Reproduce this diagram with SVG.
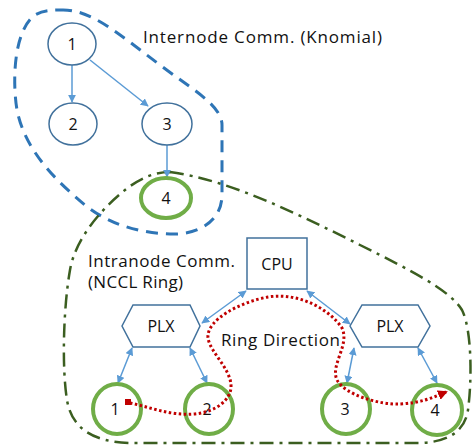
<svg xmlns="http://www.w3.org/2000/svg" width="475" height="446" viewBox="0 0 475 446">
<defs>
<style>
text{font-family:"Open Sans","Noto Sans","Liberation Sans",sans-serif;font-size:16px;fill:#111}
.big{font-size:17px}
.lbl{text-anchor:middle}
.tnode{fill:#fff;stroke:#41719c;stroke-width:1.5}
.gnode{fill:#fff;stroke:#70ad47;stroke-width:4}
.box{fill:#fff;stroke:#41719c;stroke-width:1.5}
.arr{stroke:#5b9bd5;stroke-width:1.5;fill:none}
</style>
<marker id="ah" viewBox="0 0 10 10" refX="9" refY="5" markerWidth="8" markerHeight="8" markerUnits="userSpaceOnUse" orient="auto-start-reverse">
<path d="M0,0 L10,5 L0,10 Z" fill="#5b9bd5"/>
</marker>
<marker id="rah" viewBox="0 0 10 10" refX="8" refY="5" markerWidth="10" markerHeight="10" markerUnits="userSpaceOnUse" orient="auto">
<path d="M0,0 L10,5 L0,10 Z" fill="#c00000"/>
</marker>
</defs>
<rect width="475" height="446" fill="#fff"/>
<g id="boundaries">
<path d="M60,10 C90,8 120,35 160,65 C190,88 222,105 222,125 L222,195 C222,220 200,235 170,234 C140,233 110,225 85,205 C55,180 25,150 17,110 C12,80 14,30 35,15 C42,11 50,10 60,10 Z" fill="none" stroke="#2e75b6" stroke-width="3" stroke-dasharray="12 8"/>
<path d="M170,172 C230,180 300,215 360,245 C410,270 450,290 462,310 C472,330 472,380 468,410 C465,430 450,442 420,443 L130,443 C95,442 72,430 67,400 C62,370 63,310 70,270 C75,240 100,210 125,190 C140,178 155,172 170,172 Z" fill="none" stroke="#3b5e20" stroke-width="2.5" stroke-dasharray="14 6 3 6"/>
</g>
<g id="labels">
<text class="big" x="143" y="43" textLength="239" lengthAdjust="spacing">Internode Comm. (Knomial)</text>
<text class="big" x="88" y="267" textLength="147" lengthAdjust="spacing">Intranode Comm.</text>
<text class="big" x="88" y="288" textLength="95" lengthAdjust="spacing">(NCCL Ring)</text>
<text class="big" x="221" y="346" textLength="119" lengthAdjust="spacing">Ring Direction</text>
</g>
<g id="connectors">
<line class="arr" x1="72" y1="65" x2="72" y2="102" marker-end="url(#ah)"/>
<line class="arr" x1="90" y1="60" x2="148" y2="106" marker-end="url(#ah)"/>
<line class="arr" x1="167" y1="145" x2="167" y2="177" marker-end="url(#ah)"/>
<line class="arr" x1="246" y1="291" x2="202" y2="323" marker-start="url(#ah)" marker-end="url(#ah)"/>
<line class="arr" x1="307" y1="291" x2="350" y2="324" marker-start="url(#ah)" marker-end="url(#ah)"/>
<line class="arr" x1="132" y1="348" x2="118" y2="383" marker-start="url(#ah)" marker-end="url(#ah)"/>
<line class="arr" x1="190" y1="348" x2="207" y2="383" marker-start="url(#ah)" marker-end="url(#ah)"/>
<line class="arr" x1="354" y1="348" x2="347" y2="383" marker-start="url(#ah)" marker-end="url(#ah)"/>
<line class="arr" x1="418" y1="348" x2="437" y2="383" marker-start="url(#ah)" marker-end="url(#ah)"/>
</g>
<g id="n1"><ellipse class="tnode" cx="72" cy="44" rx="24" ry="21"/><text class="lbl" x="72" y="50">1</text></g>
<g id="n2"><ellipse class="tnode" cx="73" cy="124" rx="24" ry="21"/><text class="lbl" x="73" y="130">2</text></g>
<g id="n3"><ellipse class="tnode" cx="167" cy="124" rx="25" ry="21"/><text class="lbl" x="167" y="130">3</text></g>
<g id="n4"><ellipse class="gnode" cx="166" cy="198" rx="25" ry="20"/><text class="lbl" x="166" y="204">4</text></g>
<g id="cpu"><rect class="box" x="247" y="238" width="60" height="51"/><text class="lbl" x="277" y="270">CPU</text></g>
<g id="plx1"><polygon class="box" points="122,326 133,305 190,305 200,326 190,347 133,347"/><text class="lbl" x="161" y="332">PLX</text></g>
<g id="plx2"><polygon class="box" points="350,326 362,305 418,305 430,326 418,347 362,347"/><text class="lbl" x="390" y="332">PLX</text></g>
<g id="g1"><ellipse class="gnode" cx="117" cy="409" rx="24" ry="25"/><text class="lbl" x="115" y="415">1</text></g>
<g id="g2"><ellipse class="gnode" cx="209" cy="409" rx="24" ry="25"/><text class="lbl" x="207" y="415">2</text></g>
<g id="g3"><ellipse class="gnode" cx="346" cy="409" rx="24" ry="25"/><text class="lbl" x="345" y="415">3</text></g>
<g id="g4"><ellipse class="gnode" cx="437" cy="410" rx="25" ry="25"/><text class="lbl" x="435" y="416">4</text></g>
<g id="ring">
<rect x="125" y="399" width="6" height="6" fill="#c00000"/>
<path d="M130,403 C150,407 170,416 195,414 C215,412 232,400 231,385 C230,368 210,352 208,338 C206,320 240,302 268,297 C300,292 330,310 342,328 C350,345 330,365 337,380 C345,395 380,405 400,404 C420,403 432,398 446,392" fill="none" stroke="#c00000" stroke-width="3" stroke-dasharray="2.5 2.5" marker-end="url(#rah)"/>
</g>
</svg>
